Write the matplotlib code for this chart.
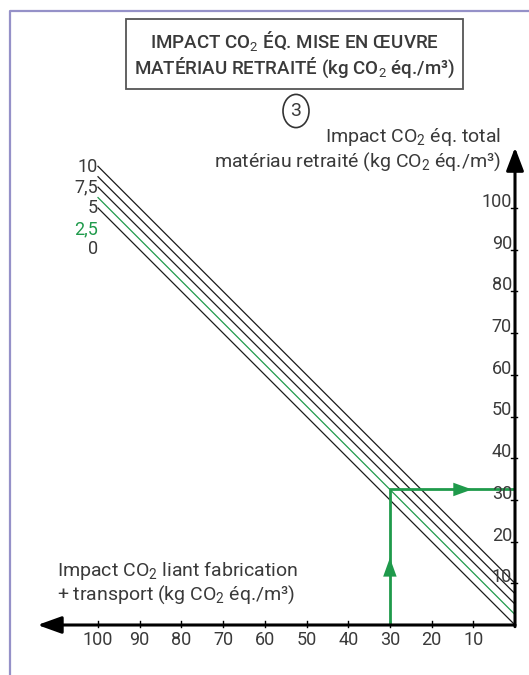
import matplotlib
matplotlib.use('Agg')
import matplotlib.pyplot as plt
from matplotlib.patches import Rectangle, Circle

font = 'Roboto'
plt.rcParams['font.family'] = [font, 'DejaVu Sans']
plt.rcParams['mathtext.fontset'] = 'custom'
plt.rcParams['mathtext.rm'] = font

#############################################################################
# DATA
#############################################################################
line_offsets = [0, 2.5, 5, 7.5, 10]          # impact of the rest of the process
line_labels = ['0', '2,5', '5', '7,5', '10']
highlight = 2.5                               # green line
binder_range = [0, 100]
x_ticks = [10, 20, 30, 40, 50, 60, 70, 80, 90, 100]
y_ticks = [10, 20, 30, 40, 50, 60, 70, 80, 90, 100]
example_binder = 30
example_total = example_binder + highlight

#############################################################################
# FIGURE  (one axes over the whole figure, x reversed)
#############################################################################
W, H = 529, 675
ORIG_X, ORIG_Y, SCALE = 515, 625, 4.17

def xv(px):
    return (ORIG_X - px) / SCALE

def yv(py):
    return (ORIG_Y - py) / SCALE

fig = plt.figure(figsize=(W / 100, H / 100), dpi=100)
ax = fig.add_axes([0, 0, 1, 1])
ax.set_xlim(xv(0), xv(W))
ax.set_ylim(yv(H), yv(0))
ax.axis('off')

txt = '#3a3a3a'
black = '#1a1a1a'
green = '#1f9a4b'
fs = 14      # labels
fs_num = 13  # numbers

# page frame
ax.plot([xv(9.5), xv(9.5), xv(W + 5)], [yv(H + 5), yv(10.5), yv(10.5)],
        color='#9591c8', lw=1.6, solid_capstyle='butt')

# diagonal lines
for c, lab in zip(line_offsets, line_labels):
    col = green if c == highlight else black
    ax.plot(binder_range, [b + c for b in binder_range], color=col, lw=0.9)

label_y_px = {'10': 166.5, '7,5': 187, '5': 208, '2,5': 229, '0': 249.5}
for c, lab in zip(line_offsets, line_labels):
    col = green if c == highlight else txt
    ax.text(xv(98), yv(label_y_px[lab]), lab, ha='right', va='center',
            fontsize=fs_num, color=col)

# axes with arrows
ext = 114.5
ax.annotate('', xy=(ext, 0), xytext=(0, 0),
            arrowprops=dict(arrowstyle='-|>,head_length=1.0,head_width=0.36',
                            mutation_scale=14.5, lw=2.2, color='black',
                            shrinkA=0, shrinkB=0))
ax.annotate('', xy=(0, ext), xytext=(0, -0.4),
            arrowprops=dict(arrowstyle='-|>,head_length=1.0,head_width=0.38',
                            mutation_scale=14.0, lw=2.2, color='black',
                            shrinkA=0, shrinkB=0))

for t in x_ticks:
    ax.plot([t, t], [yv(621), yv(627)], color='black', lw=1.0)
    ax.text(t, yv(631), str(t), ha='center', va='top', fontsize=fs_num, color=txt)
for t in y_ticks:
    ax.plot([xv(511), xv(517)], [t, t], color='black', lw=1.0)
    ax.text(xv(512), t + 0.25, str(t), ha='right', va='baseline', fontsize=fs_num, color=txt)

# green reading path
ax.plot([example_binder, example_binder, 0], [0, example_total, example_total],
        color=green, lw=2.0, solid_capstyle='butt', solid_joinstyle='miter')
ax.annotate('', xy=(example_binder, 16.1), xytext=(example_binder, 11.0),
            arrowprops=dict(arrowstyle='-|>,head_length=1.0,head_width=0.36',
                            mutation_scale=13.5, lw=0, color=green,
                            shrinkA=0, shrinkB=0))
ax.annotate('', xy=(10.3, example_total), xytext=(15.5, example_total),
            arrowprops=dict(arrowstyle='-|>,head_length=1.0,head_width=0.36',
                            mutation_scale=13.5, lw=0, color=green,
                            shrinkA=0, shrinkB=0))

# axis titles
sub = r'$_{\rm 2}$'
ax.text(xv(501), yv(137), 'Impact CO' + sub + ' éq. total', ha='right', va='center',
        fontsize=fs, color=txt)
ax.text(xv(501), yv(162), 'matériau retraité (kg CO' + sub + ' éq./m³)', ha='right',
        va='center', fontsize=fs, color=txt)
ax.text(xv(57), yv(571), 'Impact CO' + sub + ' liant fabrication', ha='left',
        va='center', fontsize=fs, color=txt)
ax.text(xv(57), yv(595), '+ transport (kg CO' + sub + ' éq./m³)', ha='left',
        va='center', fontsize=fs, color=txt)

# title box
fig.patches.append(Rectangle((126 / W, 1 - 89 / H), (463 - 126) / W, 70 / H,
                             transform=fig.transFigure, fill=False,
                             edgecolor='#555555', lw=1.3))
fig.text(294.5 / W, 1 - 42 / H, 'IMPACT CO' + sub + ' ÉQ. MISE EN ŒUVRE',
         ha='center', va='center', fontsize=13.5, color=txt, fontweight='medium')
fig.text(294.5 / W, 1 - 68 / H, 'MATÉRIAU RETRAITÉ (kg CO' + sub + ' éq./m³)',
         ha='center', va='center', fontsize=13.5, color=txt, fontweight='medium')

# circled step number
fig.patches.append(Circle((296 / W, 1 - 111 / H), 13 / W, transform=fig.transFigure,
                          fill=False, edgecolor='#333333', lw=1.2))
fig.text(296 / W, 1 - 111 / H, '3', ha='center', va='center', fontsize=14, color=txt)

fig.savefig('out.png', dpi=100)
